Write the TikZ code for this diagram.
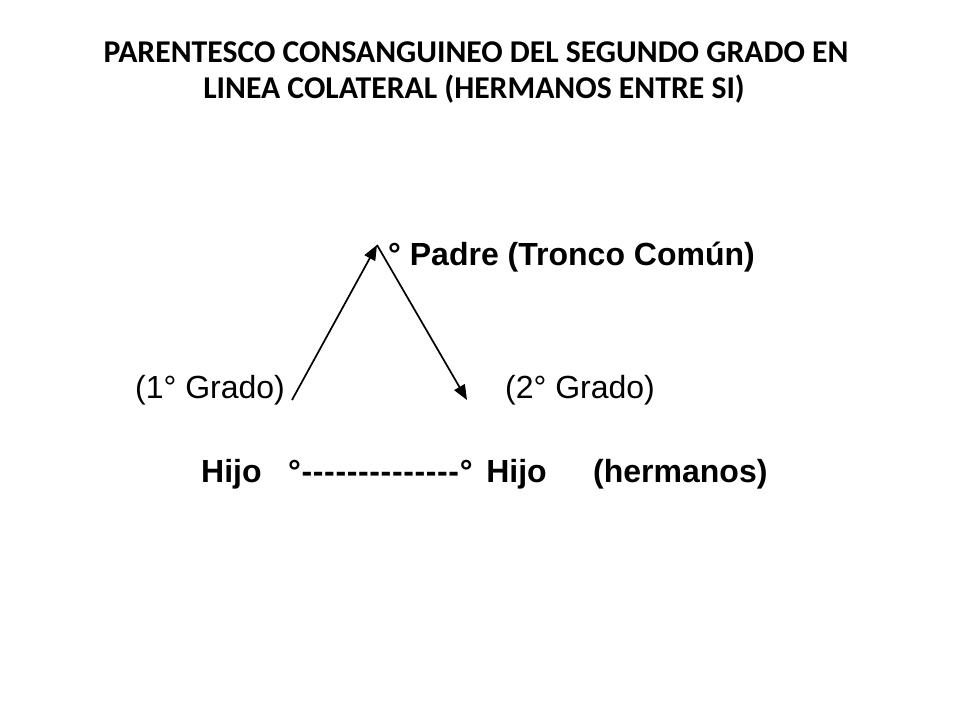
\documentclass[tikz,border=0pt]{standalone}
\usepackage{fontspec}
\newfontfamily\titlefont{Carlito}
\newfontfamily\diagfont{Liberation Sans}
\usetikzlibrary{positioning}
\usetikzlibrary{arrows.meta}

\begin{document}
\begin{tikzpicture}[x=1pt,y=-1pt,
  titulo/.style={font=\titlefont\bfseries\fontsize{31.7}{36}\selectfont, inner sep=0pt, anchor=base},
  pariente/.style={font=\diagfont\bfseries\fontsize{32}{38}\selectfont, inner sep=0pt, anchor=base west},
  grado/.style={font=\diagfont\fontsize{32}{38}\selectfont, inner sep=0pt, anchor=base west},
  flecha/.style={-{Triangle[length=15pt,width=12pt]}, line width=1.7pt}]
\useasboundingbox (0,0) rectangle (960,720);

% titulo
\node[titulo] (tit1) at (476,62) {PARENTESCO CONSANGUINEO DEL SEGUNDO GRADO EN};
\node[titulo] (tit2) at (474,98) {LINEA COLATERAL (HERMANOS ENTRE SI)};

% tronco comun
\node[pariente] (padre) at (388,265) {° Padre (Tronco Común)};
\coordinate (tronco) at (377,245);

% grados
\node[grado] (grado1) at (135,398) {(1° Grado)};
\node[grado] (grado2) at (505,398) {(2° Grado)};
\coordinate (ini1) at (292,400);
\coordinate (fin2) at (467,400);

% hermanos
\node[pariente] (hijo1) at (201,482) {Hijo};
\node[pariente] (hijo2) at (288,482) {{\addfontfeature{LetterSpace=2}°--------------°}\hspace{0.15em} Hijo};
\node[pariente] (herm) at (593,482) {(hermanos)};

\draw[flecha] (ini1) -- (tronco);
\draw[flecha] (tronco) -- (fin2);

\end{tikzpicture}
\end{document}
